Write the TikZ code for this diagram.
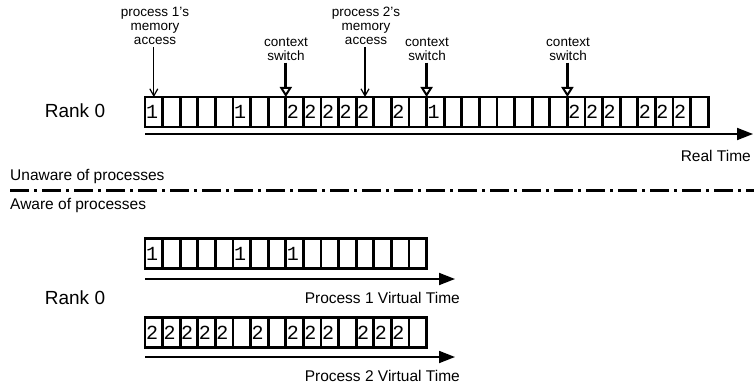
\documentclass[tikz,border=0pt]{standalone}
\usepackage{fontspec}
\setmainfont{Liberation Sans}
\newfontfamily\cellfont{Liberation Mono}
\usetikzlibrary{arrows.meta}
\begin{document}
\begin{tikzpicture}[x=1pt,y=-1pt,
  cellbox/.style={draw, line width=2.7pt, minimum height=30pt, text width=15.6pt,
    inner xsep=1pt, inner ysep=0pt, outer sep=0pt, align=left,
    font=\cellfont\fontsize{20}{20}\selectfont},
  labeltxt/.style={inner sep=0pt, font=\fontsize{15.5}{18}\selectfont},
  ranktxt/.style={inner sep=0pt, font=\fontsize{19}{22}\selectfont},
  notetxt/.style={align=center, inner sep=2pt, font=\fontsize{13.5}{14}\selectfont},
  timeaxis/.style={-{Triangle[length=16pt,width=12pt]}, line width=1.8pt},
  accessarrow/.style={-{Straight Barb[length=7pt,width=8pt]}, line width=1.2pt},
  switcharrow/.style={-{Triangle[open,length=10pt,width=12pt,line width=2pt]}, line width=3pt},
  divider/.style={line width=3pt, dash pattern=on 19pt off 5pt on 3pt off 5pt}
]
\useasboundingbox (0,0) rectangle (754,385);

% ---- real-time trace of rank 0 ----
\node[ranktxt] (rankA) at (75,111) {Rank 0};
\foreach \c [count=\i] in {1,0,0,0,0,1,0,0,2,2,2,2,2,0,2,0,1,0,0,0,0,0,0,0,2,2,2,0,2,2,2,0}
  \node[cellbox] (t\i) at ({145+(\i-0.5)*17.6},112) {\ifnum\c=0 \else\c\fi};

\coordinate (rtA) at (145,134);
\coordinate (rtB) at (753,134);
\draw[timeaxis] (rtA) -- (rtB);
\node[labeltxt, anchor=east] (rtlabel) at (751,156) {Real Time};

% memory accesses
\node[notetxt] (acc1) at (155,26) {process 1's\\memory\\access};
\node[notetxt] (acc2) at (366,26) {process 2's\\memory\\access};
\draw[accessarrow] (t1.north |- acc1.south) -- (t1.north);
\draw[accessarrow] (t13.north |- acc2.south) -- (t13.north);

% context switches
\node[notetxt] (cs1) at (286,49) {context\\switch};
\node[notetxt] (cs2) at (427,49) {context\\switch};
\node[notetxt] (cs3) at (568,49) {context\\switch};
\draw[switcharrow] (t8.north east |- cs1.south) -- (t8.north east);
\draw[switcharrow] (t16.north east |- cs2.south) -- (t16.north east);
\draw[switcharrow] (t24.north east |- cs3.south) -- (t24.north east);

% ---- divider ----
\node[labeltxt, anchor=west] (unaware) at (10,176) {Unaware of processes};
\coordinate (divA) at (10,190);
\coordinate (divB) at (754,190);
\draw[divider] (divA) -- (divB);
\node[labeltxt, anchor=west] (aware) at (10,205) {Aware of processes};

% ---- per-process virtual time ----
\node[ranktxt] (rankB) at (75,298) {Rank 0};
\foreach \c [count=\i] in {1,0,0,0,0,1,0,0,1,0,0,0,0,0,0,0}
  \node[cellbox] (p\i) at ({145+(\i-0.5)*17.6},253.5) {\ifnum\c=0 \else\c\fi};
\foreach \c [count=\i] in {2,2,2,2,2,0,2,0,2,2,2,0,2,2,2,0}
  \node[cellbox] (q\i) at ({145+(\i-0.5)*17.6},332.5) {\ifnum\c=0 \else\c\fi};

\coordinate (vaA) at (145,279);
\coordinate (vaB) at (455,279);
\draw[timeaxis] (vaA) -- (vaB);
\node[labeltxt, anchor=east] (valabel) at (460,298) {Process 1 Virtual Time};

\coordinate (vbA) at (145,357);
\coordinate (vbB) at (455,357);
\draw[timeaxis] (vbA) -- (vbB);
\node[labeltxt, anchor=east] (vblabel) at (460,376) {Process 2 Virtual Time};
\end{tikzpicture}
\end{document}
